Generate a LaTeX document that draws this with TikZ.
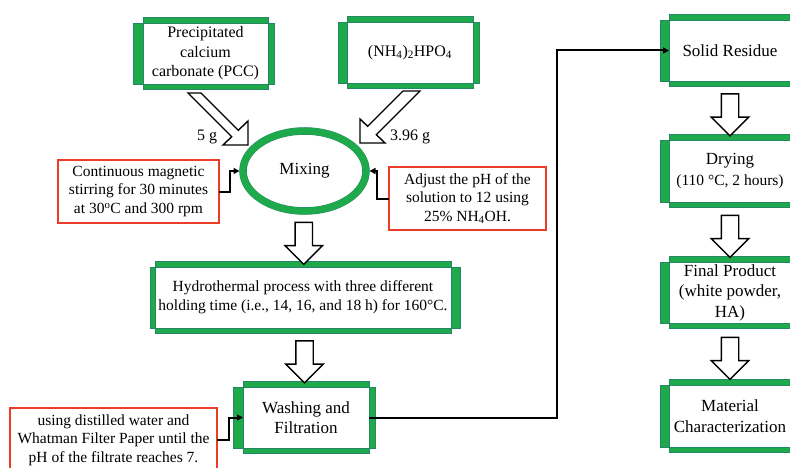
\documentclass[tikz,border=0pt]{standalone}
\usepackage{fontspec}
\setmainfont{Liberation Serif}
\usepackage{tikz}
\usetikzlibrary{arrows.meta, shapes.geometric, shapes.arrows, calc, positioning}

\definecolor{boxgreen}{RGB}{30,170,75}
\definecolor{edgeblue}{RGB}{47,82,143}
\definecolor{notered}{RGB}{235,60,40}

\begin{document}
\begin{tikzpicture}[x=1pt, y=-1pt,
    stagebox/.style={draw=edgeblue, line width=0.6pt, fill=white, align=center,
        inner sep=1pt, outer sep=0pt, font=\fontsize{17}{20.5}\selectfont},
    notebox/.style={draw=notered, line width=1.2pt, fill=white, align=center,
        inner sep=1pt, outer sep=0pt, font=\fontsize{15.5}{18.5}\selectfont},
    greenbar/.style={fill=boxgreen, draw=boxgreen!60!edgeblue, line width=0.3pt},
    link/.style={line width=2pt, -{Triangle[length=6pt, width=6pt]}},
    downarrow/.style={single arrow, draw, line width=1.4pt, fill=white,
        shape border rotate=270, minimum height=42pt, minimum width=36pt,
        inner sep=8pt, single arrow head extend=10pt, outer sep=0pt},
    blockarrow/.style={draw, line width=1.4pt, fill=white, line join=miter}
]
    \useasboundingbox (0,0) rectangle (790,468);
    \clip (0,0) rectangle (790,468);

    % left column
    \node[stagebox, minimum width=125pt, minimum height=61pt, font=\fontsize{16}{19.5}\selectfont]
        (pcc) at (205.5,53.5) {Precipitated\\calcium\\carbonate (PCC)};
    \node[stagebox, minimum width=126pt, minimum height=61pt, font=\fontsize{16}{19.5}\selectfont]
        (nh) at (410,52.5) {(NH\textsubscript{4})\textsubscript{2}HPO\textsubscript{4}};
    \node[ellipse, draw=boxgreen!60!edgeblue, line width=0.4pt, double=boxgreen, double distance=6.7pt,
        fill=white, minimum width=123pt, minimum height=80pt, inner sep=0pt, outer sep=0pt,
        font=\fontsize{17}{20}\selectfont] (mix) at (304.5,171) {Mixing};
    \node[notebox, minimum width=161pt, minimum height=63pt] (stir) at (138.5,191.5)
        {Continuous magnetic\\stirring for 30 minutes\\at 30\textsuperscript{o}C and 300 rpm};
    \node[notebox, minimum width=157pt, minimum height=63pt] (ph) at (467.5,198.5)
        {Adjust the pH of the\\solution to 12 using\\25\% NH\textsubscript{4}OH.};
    \node[stagebox, minimum width=296pt, minimum height=61pt, font=\fontsize{15.5}{19}\selectfont]
        (hydro) at (303,297.5) {Hydrothermal process with three different\\holding time (i.e., 14, 16, and 18 h) for 160°C.};
    \node[stagebox, minimum width=126pt, minimum height=61pt] (wash) at (306,417.5) {Washing and\\Filtration};
    \node[notebox, minimum width=207pt, minimum height=64pt] (filt) at (113.5,440)
        {using distilled water and\\Whatman Filter Paper until the\\pH of the filtrate reaches 7.};

    % right column
    \node[stagebox, minimum width=122pt, minimum height=61pt] (solid) at (730,50.5) {Solid Residue};
    \node[stagebox, minimum width=122pt, minimum height=62pt] (dry) at (730,171)
        {Drying\\{\fontsize{15.5}{18}\selectfont (110 °C, 2 hours)}};
    \node[stagebox, minimum width=122pt, minimum height=61pt] (final) at (730,292.5)
        {Final Product\\(white powder,\\HA)};
    \node[stagebox, minimum width=122pt, minimum height=62pt] (mat) at (730,416)
        {Material\\Characterization};

    % green bars round the boxes
    \foreach \n/\l/\r in {pcc/10/6, nh/9/6, hydro/5/9, wash/10/6, solid/9/6, dry/9/6, final/9/6, mat/9/6} {
        \path[greenbar] ($(\n.north west)+(0,-5.5)$) rectangle (\n.north east);
        \path[greenbar] (\n.south west) rectangle ($(\n.south east)+(0,5.5)$);
        \path[greenbar] ($(\n.north west)+(-\l,0)$) rectangle (\n.south west);
        \path[greenbar] (\n.north east) rectangle ($(\n.south east)+(\r,0)$);
    }

    % block arrows
    \draw[blockarrow] (188,93) -- (201,93) -- (238.3,130.3) -- (248,121) -- (248,145)
        -- (223,145) -- (231.7,136.7) -- cycle;
    \draw[blockarrow] (420,91) -- (403,91) -- (367.7,126.3) -- (360,119) -- (360,143)
        -- (385,143) -- (376.3,134.7) -- cycle;
    \node[font=\fontsize{16}{19}\selectfont] (pccmass) at (207,137) {5 g};
    \node[font=\fontsize{16}{19}\selectfont] (nhmass) at (410,137) {3.96 g};

    \node[downarrow] (mixdown) at ($(mix.south)!0.5!(hydro.north)$) {};
    \node[downarrow] (hydrodown) at ($(hydro.south)!0.5!(wash.north)$) {};
    \node[downarrow] (soliddown) at ($(solid.south)!0.5!(dry.north)$) {};
    \node[downarrow] (drydown) at ($(dry.south)!0.5!(final.north)$) {};
    \node[downarrow] (finaldown) at ($(final.south)!0.5!(mat.north)$) {};

    % connectors
    \draw[link, shorten >=3.5pt] (stir.east) -- ++(11,0) |- (mix.west);
    \draw[link, shorten >=3.5pt] (ph.west) -- ++(-12,0) |- (mix.east);
    \draw[link] (filt.east) -- ++(12,0) |- (wash.west);
    \draw[link] (wash.east) -- ++(188,0) |- (solid.west);
\end{tikzpicture}
\end{document}
